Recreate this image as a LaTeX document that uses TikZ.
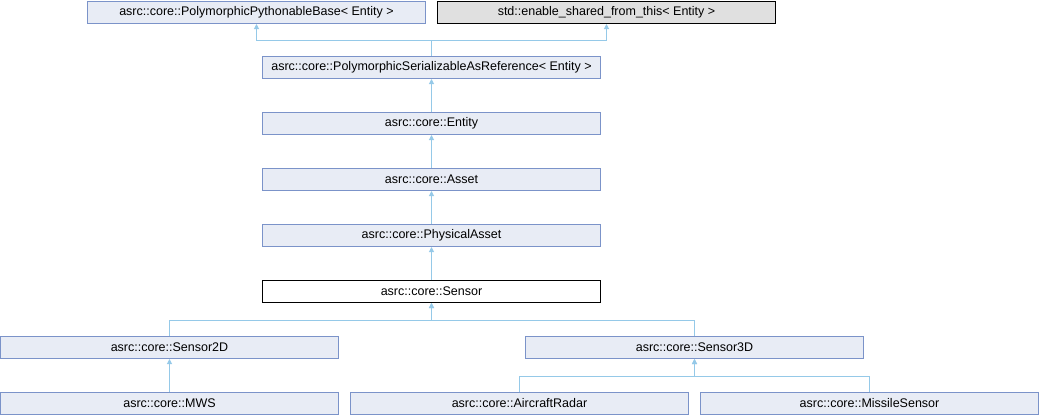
\documentclass[tikz,border=0pt]{standalone}
\usepackage{fontspec}
\setmainfont{Liberation Sans}
\usetikzlibrary{arrows.meta}
\definecolor{clsfill}{HTML}{E8ECF5}
\definecolor{clsline}{HTML}{7B93C9}
\definecolor{extfill}{HTML}{E0E0E0}
\definecolor{edgeblue}{HTML}{95C9E8}

\begin{document}
\begin{tikzpicture}[
  x=1pt, y=-1pt,
  box/.style={minimum width=338pt, minimum height=22pt, inner sep=0pt,
    line width=1pt, font=\fontsize{12.5}{14}\selectfont},
  cls/.style={box, draw=clsline, fill=clsfill},
  ext/.style={box, draw=black, fill=extfill},
  cur/.style={box, draw=black, fill=white},
  inh/.style={edgeblue, line width=1pt, -{Triangle[length=5pt,width=5pt]}}
]
\useasboundingbox (0,0) rectangle (1040,416);
% bases
\node [cls] (ppb) at (256.5,12.5) {asrc::core::PolymorphicPythonableBase< Entity >};
\node [ext] (std) at (606.5,12.5) {std::enable\_shared\_from\_this< Entity >};
\node [cls] (psar) at (431.5,67.5) {asrc::core::PolymorphicSerializableAsReference< Entity >};
\node [cls] (ent) at (431.5,123.5) {asrc::core::Entity};
\node [cls] (ast) at (431.5,179.5) {asrc::core::Asset};
\node [cls] (pa) at (431.5,235.5) {asrc::core::PhysicalAsset};
\node [cur] (sen) at (431.5,291.5) {asrc::core::Sensor};
% derived
\node [cls] (s2d) at (169.5,347.5) {asrc::core::Sensor2D};
\node [cls] (s3d) at (694.5,347.5) {asrc::core::Sensor3D};
\node [cls] (mws) at (169.5,403.5) {asrc::core::MWS};
\node [cls] (ar) at (519.5,403.5) {asrc::core::AircraftRadar};
\node [cls] (ms) at (869.5,403.5) {asrc::core::MissileSensor};

\draw [inh] (psar.north) -- ++(0,-16) -| (ppb.south);
\draw [inh] (psar.north) -- ++(0,-16) -| (std.south);
\draw [inh] (ent) -- (psar);
\draw [inh] (ast) -- (ent);
\draw [inh] (pa) -- (ast);
\draw [inh] (sen) -- (pa);

\draw [inh] (s2d.north) -- ++(0,-16) -| (sen.south);
\draw [inh] (s3d.north) -- ++(0,-16) -| (sen.south);
\draw [inh] (mws) -- (s2d);
\draw [inh] (ar.north) -- ++(0,-16) -| (s3d.south);
\draw [inh] (ms.north) -- ++(0,-16) -| (s3d.south);
\end{tikzpicture}
\end{document}
